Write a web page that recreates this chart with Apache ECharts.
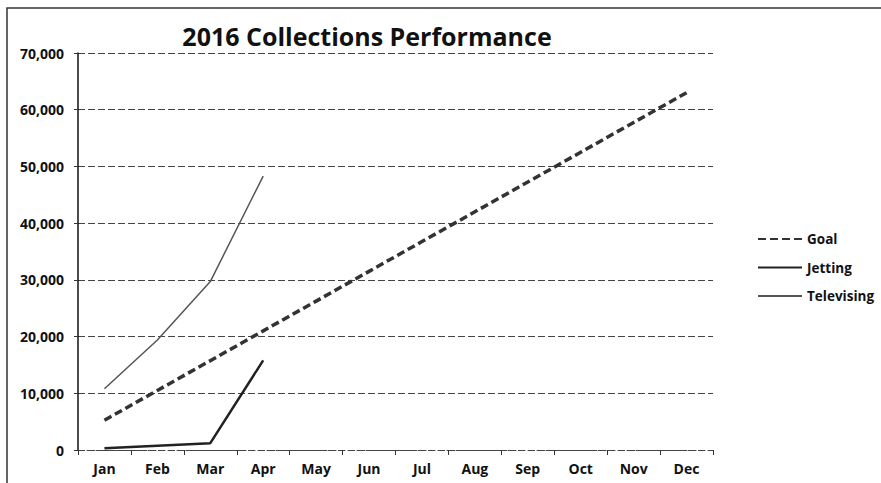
<!DOCTYPE html>
<html>
<head>
<meta charset="utf-8">
<script src="https://cdn.jsdelivr.net/npm/echarts@6/dist/echarts.min.js"></script>
<style>
  html, body { margin: 0; padding: 0; background: #fff; }
  #chart { width: 881px; height: 483px; }
</style>
</head>
<body>
<div id="chart"></div>
<script>
const MONTHS = ["Jan", "Feb", "Mar", "Apr", "May", "Jun", "Jul", "Aug", "Sep", "Oct", "Nov", "Dec"];
const GOAL = [5250, 10500, 15750, 21000, 26250, 31500, 36750, 42000, 47250, 52500, 57750, 63000];
const JETTING = [300, 750, 1200, 15800];
const TELEVISING = [10800, 19400, 29700, 48300];
const Y_TICKS = [0, 10000, 20000, 30000, 40000, 50000, 60000, 70000];

const FONT = "'Open Sans', 'Liberation Sans', sans-serif";

const chart = echarts.init(document.getElementById("chart"), undefined, { renderer: "svg" });

chart.setOption({
  animation: false,
  title: {
    text: "2016 Collections Performance",
    left: 362,
    textAlign: "center",
    top: 18,
    textStyle: { fontFamily: FONT, fontSize: 25, fontWeight: "bold", color: "#111" },
  },
  grid: { left: 78, right: 168, top: 53, bottom: 33 },
  legend: {
    orient: "vertical",
    left: 752,
    top: 227,
    itemGap: 14.5,
    itemWidth: 44,
    itemHeight: 14,
    itemStyle: { opacity: 0 },
    textStyle: { fontFamily: FONT, fontSize: 13.5, fontWeight: "bold", color: "#111" },
    data: ["Goal", "Jetting", "Televising"],
  },
  xAxis: {
    type: "category",
    data: MONTHS,
    boundaryGap: true,
    axisLine: { show: true, lineStyle: { color: "#444", type: [6, 3] } },
    axisTick: { show: true, length: 5, lineStyle: { color: "#333" } },
    axisLabel: { fontFamily: FONT, fontSize: 14, fontWeight: "bold", color: "#111", margin: 11 },
  },
  yAxis: {
    type: "value",
    min: Y_TICKS[0],
    max: Y_TICKS[Y_TICKS.length - 1],
    interval: 10000,
    axisLine: { show: true, lineStyle: { color: "#111", width: 1.5 } },
    axisTick: { show: true, length: 4, lineStyle: { color: "#333" } },
    axisLabel: {
      fontFamily: FONT,
      fontSize: 14,
      fontWeight: "bold",
      color: "#111",
      margin: 14,
      formatter: (v) => v.toLocaleString("en-US"),
    },
    splitLine: { show: true, lineStyle: { color: "#444", type: [7, 3] } },
  },
  series: [
    {
      name: "Goal",
      type: "line",
      data: GOAL,
      symbol: "none",
      lineStyle: { color: "#333", width: 3.5, type: [8, 4] },
      itemStyle: { color: "#333" },
    },
    {
      name: "Jetting",
      type: "line",
      data: JETTING,
      symbol: "none",
      lineStyle: { color: "#222", width: 2.5 },
      itemStyle: { color: "#222" },
    },
    {
      name: "Televising",
      type: "line",
      data: TELEVISING,
      symbol: "none",
      lineStyle: { color: "#555", width: 1.5 },
      itemStyle: { color: "#555" },
    },
  ],
  graphic: [
    {
      type: "polyline",
      shape: { points: [[7, 483], [7, 8], [881, 8]] },
      style: { stroke: "#333", lineWidth: 1.5, fill: null },
    },
  ],
});
</script>
</body>
</html>
